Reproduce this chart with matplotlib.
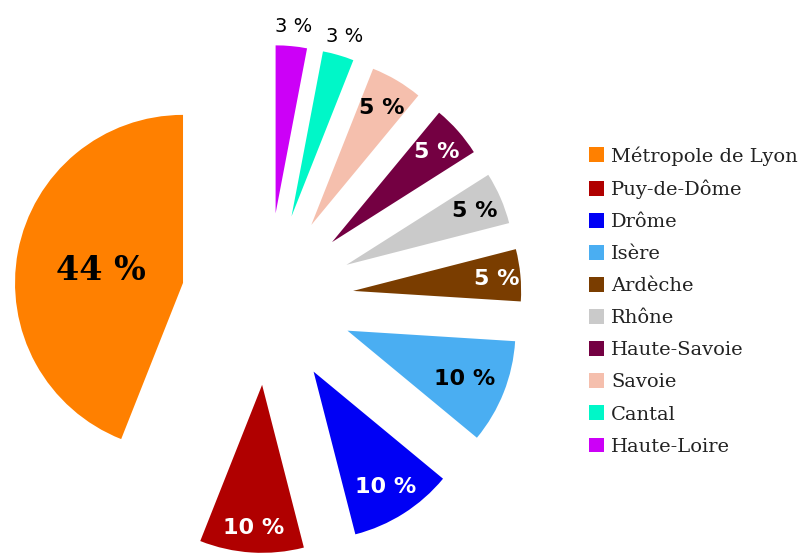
import numpy as np
import matplotlib.pyplot as plt

regions = ["Métropole de Lyon", "Puy-de-Dôme", "Drôme", "Isère", "Ardèche",
           "Rhône", "Haute-Savoie", "Savoie", "Cantal", "Haute-Loire"]
shares = [44, 10, 10, 10, 5, 5, 5, 5, 3, 3]
colors = ["#ff8000", "#b00000", "#0000f5", "#4aaef2", "#7a3d00",
          "#cacaca", "#740042", "#f5bfad", "#00f7c8", "#cc00f7"]
text_colors = ["black", "white", "white", "black", "white",
               "black", "white", "black", "black", "black"]
# how far out along each wedge the percentage sits (fraction of radius)
label_dist = [0.5, 0.84, 0.8, 0.75, 0.86, 0.83, 0.83, 0.82, 1.13, 1.13]

W, H = 800, 553
R = 168
fig = plt.figure(figsize=(W / 100, H / 100), dpi=100)
ax = fig.add_axes([0, 0, 1, 1])

wedges, _ = ax.pie(shares, colors=colors, startangle=90, counterclock=True,
                   radius=R, center=(267.5, H - 299),
                   explode=[86] * len(shares), frame=True)
ax.set_xlim(0, W)
ax.set_ylim(0, H)
ax.axis('off')

for w, v, c, d in zip(wedges, shares, text_colors, label_dist):
    th = np.deg2rad((w.theta1 + w.theta2) / 2)
    x = w.center[0] + d * w.r * np.cos(th)
    y = w.center[1] + d * w.r * np.sin(th)
    if v > 40:
        ax.text(x, y, f"{v} %", ha='center', va='center_baseline', color=c,
                fontsize=24, family='DejaVu Serif', fontweight='bold')
    elif v < 4:
        ax.text(x, y, f"{v} %", ha='center', va='center_baseline', color=c,
                fontsize=14, family='DejaVu Sans')
    else:
        ax.text(x, y, f"{v} %", ha='center', va='center_baseline', color=c,
                fontsize=16, family='DejaVu Sans', fontweight='bold')

leg = ax.legend(wedges, regions, loc='upper left',
                bbox_to_anchor=(589 / W, 1 - 146 / H), frameon=False,
                prop={'family': 'DejaVu Serif', 'size': 14},
                handlelength=0.78, handleheight=0.78, handletextpad=0.35,
                labelspacing=0.72, borderpad=0, borderaxespad=0)
for t in leg.get_texts():
    t.set_color('#222222')

fig.savefig('out.png', dpi=100)
